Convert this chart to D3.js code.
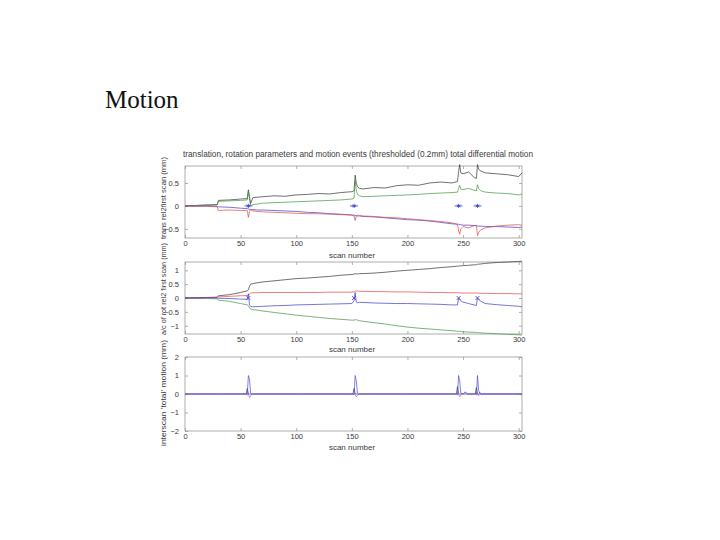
<!DOCTYPE html>
<html><head><meta charset="utf-8">
<script src="https://cdn.jsdelivr.net/npm/d3@7"></script>
<style>body{margin:0;background:#fff;} svg{display:block;}</style>
</head><body>
<svg id="c" width="720" height="540"></svg>
<script>
// ---------------- DATA ----------------
const slideTitle = "Motion";
const chartTitle = "translation, rotation parameters and motion events (thresholded (0.2mm) total differential motion";
const xTicks = [0, 50, 100, 150, 200, 250, 300];
const xLabel = "scan number";
const yLabel1 = "trans rel2first scan (mm)";
const yLabel2 = "a/c of rot rel2 first scan (mm)";
const yLabel3 = "interscan 'total' motion (mm)";
const yTicks1 = [-0.5, 0, 0.5];
const yTicks2 = [-1, -0.5, 0, 0.5, 1];
const yTicks3 = [-2, -1, 0, 1, 2];
const motionEvents = [57, 152, 246, 263];

const scans = [0,10,20,29,30,40,50,56,57,58,59,61,65,70,80,90,100,110,120,130,140,150,152,153,154,155,157,160,170,180,190,200,210,220,230,240,245,246,247,248,250,255,260,262,263,264,266,270,280,290,300,303];

// panel 1: translations
const transBlack = [0,0.01,0.02,0.03,0.12,0.13,0.15,0.16,0.35,0.2,0.05,0.18,0.19,0.2,0.22,0.21,0.24,0.25,0.27,0.26,0.29,0.31,0.33,0.67,0.5,0.42,0.38,0.37,0.4,0.39,0.44,0.46,0.45,0.5,0.52,0.5,0.53,0.75,0.9,0.72,0.7,0.74,0.62,0.6,0.9,0.8,0.76,0.72,0.7,0.68,0.64,0.72];
const transGreen = [0,0.01,0.02,0.02,0.1,0.11,0.12,0.13,0.32,0.15,0.0,0.03,0.04,0.06,0.07,0.08,0.09,0.1,0.11,0.12,0.13,0.15,0.17,0.55,0.35,0.25,0.22,0.2,0.21,0.22,0.23,0.24,0.25,0.27,0.28,0.29,0.3,0.38,0.45,0.36,0.36,0.38,0.34,0.33,0.46,0.38,0.33,0.3,0.28,0.27,0.24,0.26];
const transBlue = [0,-0.01,0.0,-0.01,-0.02,-0.03,-0.05,-0.06,-0.07,-0.07,-0.08,-0.08,-0.09,-0.09,-0.1,-0.11,-0.12,-0.14,-0.15,-0.17,-0.18,-0.2,-0.2,-0.21,-0.21,-0.22,-0.22,-0.23,-0.24,-0.26,-0.28,-0.3,-0.31,-0.33,-0.36,-0.39,-0.4,-0.4,-0.41,-0.41,-0.42,-0.42,-0.43,-0.43,-0.44,-0.44,-0.44,-0.45,-0.45,-0.46,-0.47,-0.46];
const transRed = [0,0,-0.01,-0.02,-0.1,-0.09,-0.1,-0.1,-0.25,-0.12,-0.08,-0.11,-0.12,-0.13,-0.14,-0.15,-0.16,-0.17,-0.17,-0.18,-0.19,-0.2,-0.22,-0.32,-0.22,-0.2,-0.21,-0.22,-0.23,-0.25,-0.26,-0.28,-0.3,-0.32,-0.34,-0.37,-0.4,-0.55,-0.62,-0.5,-0.45,-0.48,-0.43,-0.42,-0.65,-0.58,-0.52,-0.48,-0.44,-0.42,-0.41,-0.42];

// panel 2: rotations
const rotBlack = [0,0.01,0.02,0.03,0.08,0.12,0.2,0.26,0.3,0.42,0.5,0.52,0.55,0.58,0.62,0.66,0.7,0.72,0.75,0.78,0.82,0.85,0.86,0.88,0.87,0.87,0.88,0.88,0.9,0.93,0.97,1.0,1.03,1.06,1.1,1.13,1.15,1.15,1.16,1.16,1.17,1.18,1.2,1.2,1.22,1.22,1.23,1.25,1.28,1.3,1.32,1.33];
const rotGreen = [0,-0.01,-0.02,-0.03,-0.08,-0.12,-0.2,-0.25,-0.28,-0.35,-0.4,-0.42,-0.44,-0.47,-0.52,-0.57,-0.62,-0.66,-0.7,-0.74,-0.77,-0.8,-0.8,-0.78,-0.79,-0.8,-0.82,-0.84,-0.89,-0.94,-1.0,-1.05,-1.09,-1.12,-1.15,-1.18,-1.2,-1.2,-1.2,-1.21,-1.22,-1.23,-1.24,-1.24,-1.25,-1.25,-1.26,-1.27,-1.29,-1.31,-1.33,-1.34];
const rotRed = [0,0,0.01,0.02,0.04,0.06,0.08,0.09,0.1,0.15,0.18,0.19,0.19,0.2,0.2,0.2,0.2,0.2,0.2,0.21,0.21,0.21,0.22,0.26,0.25,0.25,0.24,0.24,0.23,0.23,0.22,0.22,0.21,0.2,0.2,0.19,0.19,0.19,0.19,0.18,0.18,0.18,0.18,0.18,0.18,0.17,0.17,0.17,0.16,0.16,0.15,0.15];
const rotBlue = [0,0,0.01,0.0,-0.01,-0.02,-0.04,-0.05,0.15,-0.25,-0.3,-0.32,-0.31,-0.3,-0.28,-0.27,-0.25,-0.24,-0.23,-0.22,-0.21,-0.2,-0.1,0.2,-0.15,-0.17,-0.16,-0.16,-0.18,-0.19,-0.2,-0.2,-0.21,-0.22,-0.23,-0.25,-0.25,0.0,-0.05,-0.1,-0.15,-0.2,-0.25,-0.27,0.0,-0.05,-0.12,-0.2,-0.24,-0.27,-0.3,-0.32];

// panel 3: total differential motion
const scans3 = [0,30,55,56,57,58,59,60,100,150,151,152,153,154,155,156,200,244,245,246,247,248,250,252,254,260,261,262,263,264,265,266,303];
const diffBlue = [0,0,0,-0.05,1.0,0.8,0.05,0, 0,0,0,-0.05,1.0,0.7,0.05,0, 0, 0,-0.05,1.0,0.7,0.05,0,0.1,0, 0,0,-0.05,1.0,0.2,0.05,0,0];
const diffMagenta = [0,0,0,0,0,-0.2,-0.1,0, 0,0,0,0,0,-0.15,-0.1,0, 0, 0,0,0,-0.15,-0.05,0,0.1,0, 0,0,0,0,-0.1,0.1,0,0];
const diffBlack = [0,0,0,0.3,0,0,0,0, 0,0,0,0.3,0,0,0,0, 0, 0,0.4,0,0,0,0,0,0, 0,0,0.35,0,0,0,0,0];

// ---------------- DRAW ----------------
const svg = d3.select("#c");
const font = "Liberation Sans, Arial, sans-serif";
const txt = "#3a3a3a";
const boxCol = "#9a9a9a";

svg.append("text").attr("x", 105).attr("y", 108)
  .attr("font-family", "Liberation Serif, DejaVu Serif, serif")
  .attr("font-size", 25).attr("fill", "#111").text(slideTitle);

const x = d3.scaleLinear().domain([0, 303]).range([185, 522]);

svg.append("text").attr("x", 183).attr("y", 157)
  .attr("font-family", font).attr("font-size", 8.5).attr("fill", txt)
  .attr("textLength", 350).attr("lengthAdjust", "spacingAndGlyphs")
  .text(chartTitle);

function panel(top, bottom, domain, yTicks, xs, series, yLabel, yLabelY, yLabelLen, xLabY) {
  const y = d3.scaleLinear().domain(domain).range([bottom, top]);
  const g = svg.append("g");
  g.append("rect").attr("x", x.range()[0]).attr("y", top)
    .attr("width", x.range()[1] - x.range()[0]).attr("height", bottom - top)
    .attr("fill", "none").attr("stroke", boxCol).attr("stroke-width", 0.8);
  const mk = (ax) => ax.tickSize(-3).tickPadding(3);
  const bx = g.append("g").attr("transform", `translate(0,${bottom})`)
    .call(mk(d3.axisBottom(x).tickValues(xTicks).tickFormat(d3.format("d"))));
  const tx = g.append("g").attr("transform", `translate(0,${top})`)
    .call(mk(d3.axisTop(x).tickValues(xTicks).tickFormat("")));
  const ly = g.append("g").attr("transform", `translate(${x.range()[0]},0)`)
    .call(mk(d3.axisLeft(y).tickValues(yTicks).tickFormat(d3.format("~g"))));
  const ry = g.append("g").attr("transform", `translate(${x.range()[1]},0)`)
    .call(mk(d3.axisRight(y).tickValues(yTicks).tickFormat("")));
  [bx, tx, ly, ry].forEach(a => {
    a.select(".domain").remove();
    a.selectAll(".tick line").attr("stroke", boxCol).attr("stroke-width", 0.8);
    a.selectAll(".tick text").attr("fill", txt).attr("font-family", font).attr("font-size", 7.5);
  });
  ly.selectAll(".tick text").attr("x", -6);
  g.append("text").attr("x", 352).attr("y", xLabY).attr("text-anchor", "middle")
    .attr("font-family", font).attr("font-size", 8).attr("fill", txt).text(xLabel);
  g.append("text").attr("transform", `translate(166,${yLabelY}) rotate(-90)`)
    .attr("text-anchor", "middle").attr("font-family", font).attr("font-size", 7.5)
    .attr("textLength", yLabelLen).attr("lengthAdjust", "spacingAndGlyphs")
    .attr("fill", txt).text(yLabel);
  const line = d3.line().x((d, i) => x(xs[i])).y(d => y(d));
  series.forEach(s => {
    g.append("path").datum(s.v).attr("d", line).attr("fill", "none")
      .attr("stroke", s.c).attr("stroke-width", 0.7).attr("stroke-linejoin", "round");
  });
  return {g, y};
}

const p1 = panel(166, 238, [-0.7, 0.87], yTicks1, scans, [
  {v: transBlack, c: "#333"}, {v: transGreen, c: "#3f943f"},
  {v: transBlue, c: "#3a3ad0"}, {v: transRed, c: "#e04848"}
], yLabel1, 198, 82, 258);
p1.g.selectAll(".ev").data(motionEvents).enter().append("path")
  .attr("transform", d => `translate(${x(d)},${p1.y(0)})`)
  .attr("d", d3.symbol(d3.symbolAsterisk, 12)).attr("fill", "none")
  .attr("stroke", "#3a3ad0").attr("stroke-width", 0.8);
p1.g.selectAll(".evl").data(motionEvents).enter().append("line")
  .attr("x1", d => x(d) - 4).attr("x2", d => x(d) + 4)
  .attr("y1", p1.y(0)).attr("y2", p1.y(0)).attr("stroke", "#3a3ad0").attr("stroke-width", 0.8);

const p2 = panel(262, 334, [-1.3, 1.3], yTicks2, scans, [
  {v: rotBlack, c: "#333"}, {v: rotGreen, c: "#3f943f"},
  {v: rotRed, c: "#e04848"}, {v: rotBlue, c: "#3a3ad0"}
], yLabel2, 289, 92, 352);
p2.g.selectAll(".ev").data(motionEvents).enter().append("path")
  .attr("transform", d => `translate(${x(d)},${p2.y(0)})`)
  .attr("d", d3.symbol(d3.symbolX, 12)).attr("fill", "none")
  .attr("stroke", "#3a3ad0").attr("stroke-width", 0.8);

panel(357, 431, [-2, 2], yTicks3, scans3, [
  {v: diffBlack, c: "#333"}, {v: diffMagenta, c: "#b060e0"}, {v: diffBlue, c: "#4a4ad8"}
], yLabel3, 393, 106, 450);
</script>
</body></html>
